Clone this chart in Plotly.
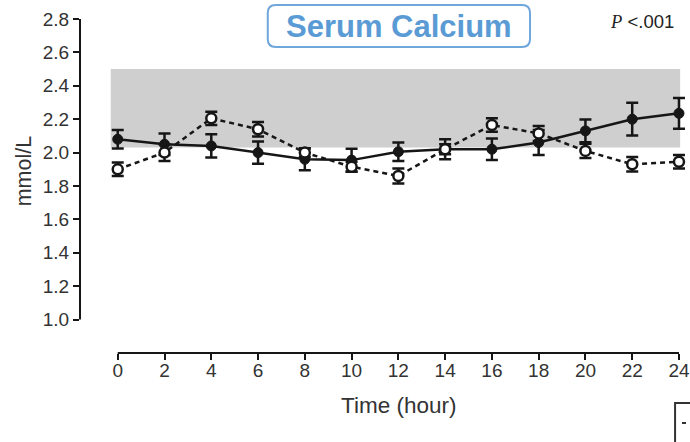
import plotly.graph_objects as go

hours = [0, 2, 4, 6, 8, 10, 12, 14, 16, 18, 20, 22, 24]
solid_mean = [2.08, 2.05, 2.04, 2.00, 1.96, 1.955, 2.005, 2.02, 2.02, 2.06, 2.13, 2.20, 2.235]
solid_err = [0.055, 0.065, 0.07, 0.067, 0.066, 0.068, 0.055, 0.06, 0.065, 0.075, 0.068, 0.098, 0.092]
open_mean = [1.90, 2.00, 2.205, 2.14, 2.00, 1.915, 1.86, 2.02, 2.165, 2.115, 2.01, 1.93, 1.945]
open_err = [0.04, 0.05, 0.04, 0.043, 0.025, 0.03, 0.045, 0.03, 0.04, 0.045, 0.043, 0.043, 0.04]
y_ticks = [1.0, 1.2, 1.4, 1.6, 1.8, 2.0, 2.2, 2.4, 2.6, 2.8]
x_ticks = hours
band_low, band_high = 2.03, 2.5

W, H = 690, 442
ML, MR, MT, MB = 80, 0, 19, 89
PW, PH = W - ML - MR, H - MT - MB


def px(x):
    return (x - ML) / PW


def py(y):
    return (H - MB - y) / PH


INK = "#161616"
FONT = "Liberation Sans"

fig = go.Figure()
fig.add_trace(go.Scatter(
    x=hours, y=solid_mean, mode="lines+markers",
    line=dict(color=INK, width=2.5),
    marker=dict(size=10, color=INK, line=dict(color=INK, width=1)),
    error_y=dict(type="data", array=solid_err, color=INK, thickness=2.5, width=6),
    cliponaxis=False, showlegend=False))
fig.add_trace(go.Scatter(
    x=hours, y=open_mean, mode="lines+markers",
    line=dict(color=INK, width=2.5, dash="5px,4px"),
    marker=dict(size=10, color="white", line=dict(color=INK, width=2.5)),
    error_y=dict(type="data", array=open_err, color=INK, thickness=2.5, width=6),
    cliponaxis=False, showlegend=False))

shapes = [
    dict(type="rect", xref="x", yref="y", x0=-0.3, x1=24.05, y0=band_low, y1=band_high,
         fillcolor="#cfcfcf", line=dict(width=0), layer="below"),
    # y axis line (1.0 to 2.8)
    dict(type="line", xref="paper", yref="y", x0=0, x1=0, y0=1.0, y1=2.8,
         line=dict(color=INK, width=2)),
    # x axis line (0 to 24)
    dict(type="line", xref="x", yref="paper", x0=0, x1=24, y0=0, y1=0,
         line=dict(color=INK, width=2)),
]

# rounded title box
x0b, x1b, y0b, y1b, r = 269, 533, 5, 47, 8
path = (f"M {px(x0b + r)},{py(y0b)} L {px(x1b - r)},{py(y0b)} "
        f"Q {px(x1b)},{py(y0b)} {px(x1b)},{py(y0b + r)} "
        f"L {px(x1b)},{py(y1b - r)} Q {px(x1b)},{py(y1b)} {px(x1b - r)},{py(y1b)} "
        f"L {px(x0b + r)},{py(y1b)} Q {px(x0b)},{py(y1b)} {px(x0b)},{py(y1b - r)} "
        f"L {px(x0b)},{py(y0b + r)} Q {px(x0b)},{py(y0b)} {px(x0b + r)},{py(y0b)} Z")
shapes.append(dict(type="path", xref="paper", yref="paper", path=path,
                   line=dict(color="#6fa6dc", width=2), fillcolor="white"))
# fragment of neighbouring panel at bottom right
shapes.append(dict(type="rect", xref="paper", yref="paper",
                   x0=px(679), x1=px(720), y0=py(403), y1=py(470),
                   line=dict(color="#333333", width=2)))
shapes.append(dict(type="line", xref="paper", yref="paper",
                   x0=px(686), x1=px(690), y0=py(423), y1=py(423),
                   line=dict(color="#333333", width=2)))

annotations = [
    dict(xref="paper", yref="paper", x=px(401), y=py(27), text="<b>Serum Calcium</b>",
         showarrow=False, xanchor="center", yanchor="middle",
         font=dict(family=FONT, size=31, color="#5b9bd5")),
    dict(xref="paper", yref="paper", x=px(611), y=py(21),
         text="<span style=\"font-family:'Liberation Serif'\"><i>P</i></span> &lt;.001",
         showarrow=False, xanchor="left", yanchor="middle",
         font=dict(family=FONT, size=18.5, color="#222222")),
    dict(xref="x", yref="paper", x=12, y=py(405), text="Time (hour)",
         showarrow=False, xanchor="center", yanchor="middle",
         font=dict(family=FONT, size=22.5, color="#333333")),
    dict(xref="paper", yref="paper", x=px(24), y=py(171), text="mmol/L",
         showarrow=False, xanchor="center", yanchor="middle", textangle=-90,
         font=dict(family=FONT, size=21.5, color="#333333")),
]

fig.update_layout(
    width=W, height=H,
    margin=dict(l=ML, r=MR, t=MT, b=MB),
    paper_bgcolor="white", plot_bgcolor="white",
    font=dict(family=FONT, color="#333333"),
    shapes=shapes, annotations=annotations,
    xaxis=dict(range=[-1.614, 24.3], tickvals=x_ticks, ticks="outside", ticklen=6,
               tickwidth=2, tickcolor=INK, showline=False, showgrid=False, zeroline=False,
               ticklabeloverflow="allow", ticklabelstandoff=-6,
               tickfont=dict(size=19, color="#333333")),
    yaxis=dict(range=[0.8, 2.8], tickvals=y_ticks, tickformat=".1f", ticks="outside",
               ticklen=6, tickwidth=2, tickcolor=INK, showline=False, showgrid=False,
               zeroline=False, tickfont=dict(size=19, color="#333333")),
)

fig.write_html("out.html")
